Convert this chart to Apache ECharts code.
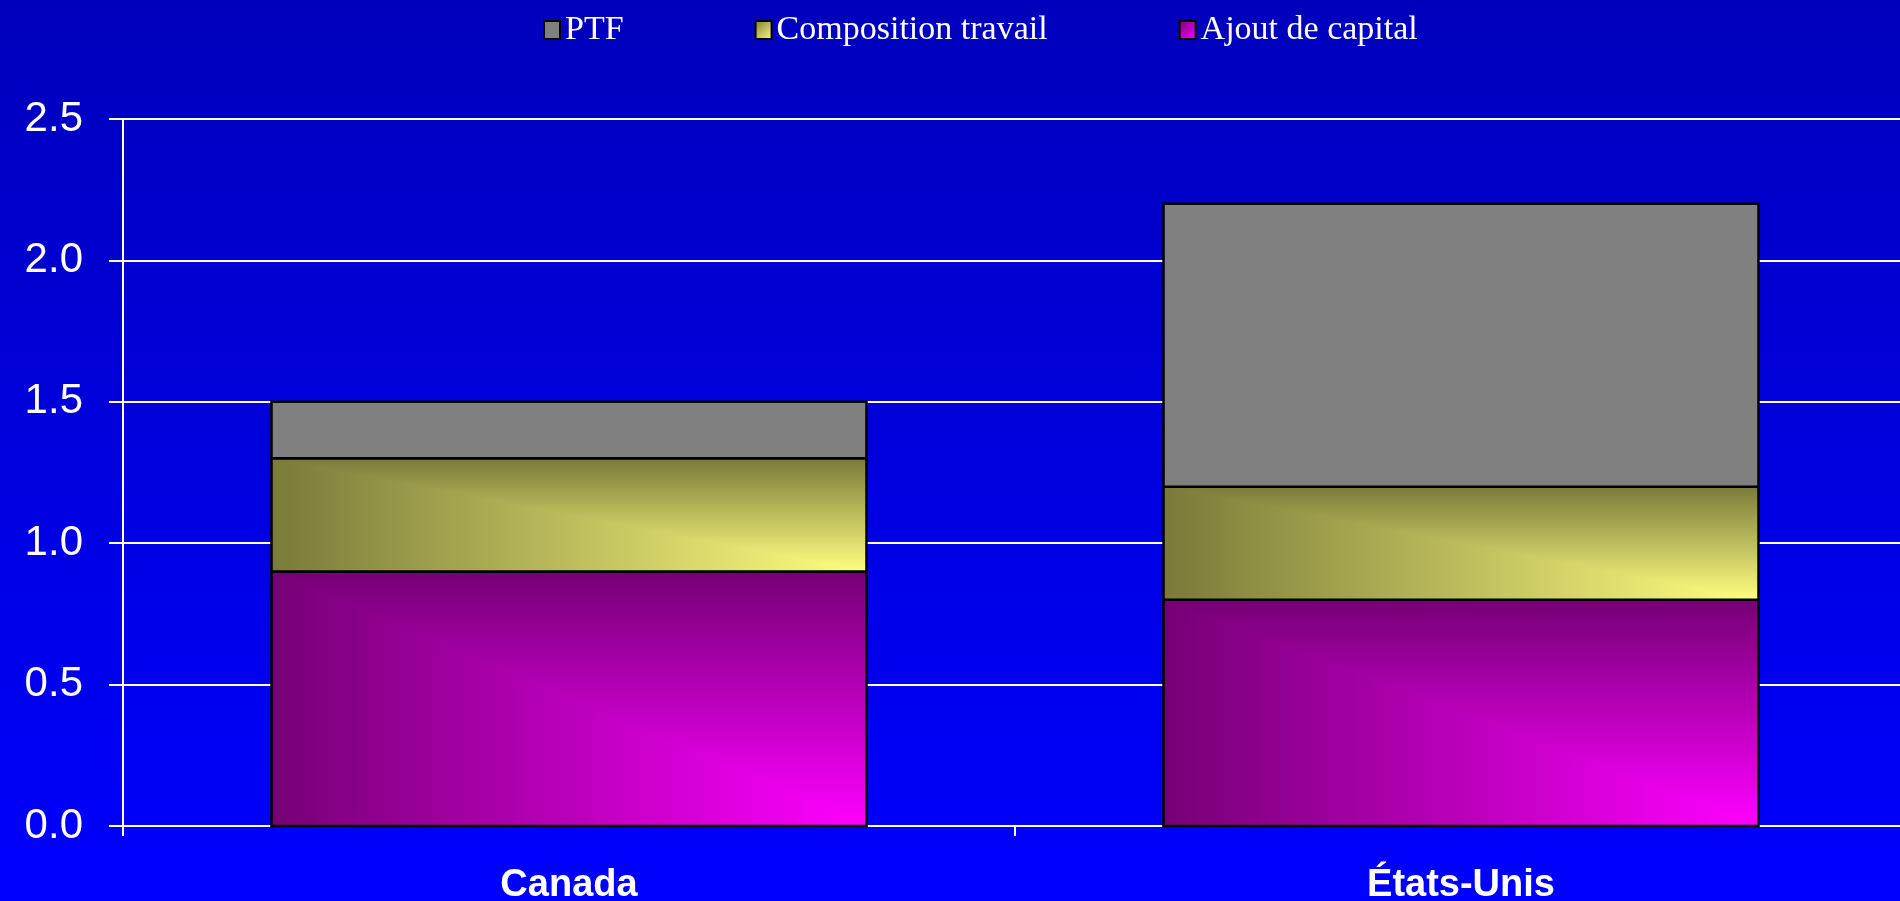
<!DOCTYPE html>
<html>
<head>
<meta charset="utf-8">
<script src="https://cdn.jsdelivr.net/npm/echarts@6/dist/echarts.min.js"></script>
<style>
  html, body { margin: 0; padding: 0; }
  #chart { width: 1900px; height: 901px; }
</style>
</head>
<body>
<div id="chart"></div>
<script>
var categories = ['Canada', 'États-Unis']
var seriesNames = ['PTF', 'Composition travail', 'Ajout de capital']
// valeurs empilées, de bas en haut : capital, travail, PTF
var ajoutCapital = [0.9, 0.8]
var compositionTravail = [0.4, 0.4]
var ptf = [0.2, 1.0]
var yTicks = [0, 0.5, 1.0, 1.5, 2.0, 2.5]

var myChart = echarts.init(document.getElementById('chart'))

// couleurs : [sombre, clair]
var colors = {
  'PTF': ['#808080', '#808080'],
  'Composition travail': ['#7a7a3a', '#ffff80'],
  'Ajout de capital': ['#750075', '#ff00ff']
}

// dégradé "à partir du coin" : min(u, v) -> rect + triangle
function renderSegment (params, api) {
  var ci = api.value(0)
  var lo = api.value(2)
  var hi = lo + api.value(1)
  var p0 = api.coord([ci, lo])
  var p1 = api.coord([ci, hi])
  var w = api.size([1, 0])[0] * 0.667
  var x = p0[0] - w / 2
  var y = p1[1]
  var h = p0[1] - p1[1]
  var c = colors[params.seriesName]
  return {
    type: 'group',
    children: [
      {
        type: 'rect',
        shape: { x: x, y: y, width: w, height: h },
        style: {
          fill: new echarts.graphic.LinearGradient(0, 0, 1, 0, [
            { offset: 0, color: c[0] }, { offset: 1, color: c[1] }
          ])
        }
      },
      {
        type: 'polygon',
        shape: { points: [[x, y], [x + w, y], [x + w, y + h]] },
        style: {
          fill: new echarts.graphic.LinearGradient(0, 0, 0, 1, [
            { offset: 0, color: c[0] }, { offset: 1, color: c[1] }
          ])
        }
      },
      {
        type: 'rect',
        shape: { x: x, y: y, width: w, height: h },
        style: { fill: 'none', stroke: '#000', lineWidth: 2.5 }
      }
    ]
  }
}

function stackData (values, bases) {
  return values.map(function (v, i) { return [i, v, bases[i]] })
}
var zero = [0, 0]
var base2 = ajoutCapital.map(function (v, i) { return v + compositionTravail[i] })

function legendIcon (name) {
  var c = colors[name]
  return {
    name: name,
    itemStyle: {
      color: new echarts.graphic.LinearGradient(0, 0, 1, 1, [
        { offset: 0, color: c[0] }, { offset: 1, color: c[1] }
      ]),
      borderColor: '#000',
      borderWidth: 2
    }
  }
}

var option = {
  backgroundColor: new echarts.graphic.LinearGradient(0, 0, 0, 1, [
    { offset: 0, color: '#0000bc' },
    { offset: 1, color: '#0000ff' }
  ]),
  animation: false,
  legend: {
    top: 8,
    left: 538,
    icon: 'rect',
    itemWidth: 16,
    itemHeight: 18,
    itemGap: 131,
    textStyle: {
      color: '#ffffff',
      fontFamily: 'Liberation Serif',
      fontSize: 34
    },
    data: seriesNames.map(legendIcon)
  },
  grid: {
    top: 119,
    left: 123,
    right: -7,
    bottom: 75,
    containLabel: false,
    outerBoundsMode: 'none'
  },
  xAxis: {
    type: 'category',
    data: categories,
    axisLine: { lineStyle: { color: '#ffffff', width: 2 } },
    axisTick: { show: true, length: 10, lineStyle: { color: '#ffffff', width: 2 } },
    axisLabel: {
      color: '#ffffff',
      fontFamily: 'Liberation Sans',
      fontWeight: 'bold',
      fontSize: 38,
      margin: 41
    }
  },
  yAxis: {
    type: 'value',
    min: 0,
    max: 2.5,
    interval: 0.5,
    axisLine: { show: true, lineStyle: { color: '#ffffff', width: 2 } },
    axisTick: { show: true, length: 14, lineStyle: { color: '#ffffff', width: 2 } },
    axisLabel: {
      color: '#ffffff',
      fontFamily: 'Liberation Sans',
      fontSize: 42,
      margin: 40,
      formatter: function (v) { return yTicks.indexOf(v) >= 0 ? v.toFixed(1) : '' }
    },
    splitLine: { show: true, lineStyle: { color: '#ffffff', width: 2 } }
  },
  series: [
    {
      name: 'Ajout de capital',
      type: 'custom',
      renderItem: renderSegment,
      encode: { x: 0, y: 1 },
      itemStyle: { color: '#ff00ff' },
      data: stackData(ajoutCapital, zero)
    },
    {
      name: 'Composition travail',
      type: 'custom',
      renderItem: renderSegment,
      encode: { x: 0, y: 1 },
      itemStyle: { color: '#ffff80' },
      data: stackData(compositionTravail, ajoutCapital)
    },
    {
      name: 'PTF',
      type: 'custom',
      renderItem: renderSegment,
      encode: { x: 0, y: 1 },
      itemStyle: { color: '#808080' },
      data: stackData(ptf, base2)
    }
  ]
}

myChart.setOption(option)
</script>
</body>
</html>
